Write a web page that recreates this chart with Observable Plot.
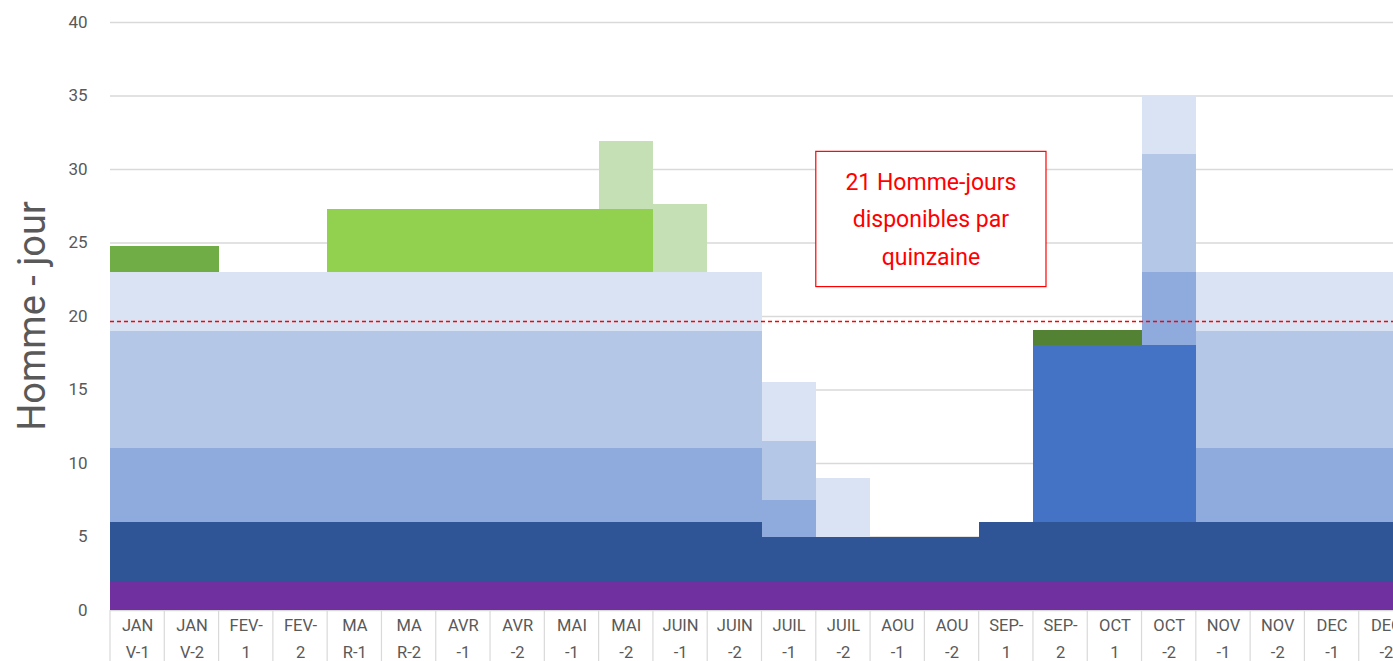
<!DOCTYPE html>
<html><head><meta charset="utf-8">
<script src="https://cdn.jsdelivr.net/npm/d3@7"></script>
<script src="https://cdn.jsdelivr.net/npm/@observablehq/plot@0.6"></script>
<style>html,body{margin:0;padding:0;background:#fff;overflow:hidden;}</style>
</head><body><div id="chart"></div>
<script>
// Categories (tick labels as displayed, wrapped on two lines)
const categories = ["JAN\nV-1","JAN\nV-2","FEV-\n1","FEV-\n2","MA\nR-1","MA\nR-2","AVR\n-1","AVR\n-2","MAI\n-1","MAI\n-2","JUIN\n-1","JUIN\n-2","JUIL\n-1","JUIL\n-2","AOU\n-1","AOU\n-2","SEP-\n1","SEP-\n2","OCT\n1","OCT\n-2","NOV\n-1","NOV\n-2","DEC\n-1","DEC\n-2"];

// Series values (stack order bottom -> top)
const s1 = [2,2,2,2,2,2,2,2,2,2,2,2,2,2,2,2,2,2,2,2,2,2,2,2];
const s2 = [4,4,4,4,4,4,4,4,4,4,4,4,3,3,3,3,4,4,4,4,4,4,4,4];
const s3 = [0,0,0,0,0,0,0,0,0,0,0,0,0,0,0,0,0,12,12,12,0,0,0,0];
const s4 = [5,5,5,5,5,5,5,5,5,5,5,5,2.5,0,0,0,0,0,0,5,5,5,5,5];
const s5 = [8,8,8,8,8,8,8,8,8,8,8,8,4,0,0,0,0,0,0,8,8,8,8,8];
const s6 = [4,4,4,4,4,4,4,4,4,4,4,4,4,4,0,0,0,0,0,4,4,4,4,4];
const s7 = [0,0,0,0,0,0,0,0,0,0,0,0,0,0,0,0,0,1.05,1.05,0,0,0,0,0];
const s8 = [1.75,1.75,0,0,0,0,0,0,0,0,0,0,0,0,0,0,0,0,0,0,0,0,0,0];
const s9 = [0,0,0,0,4.3,4.3,4.3,4.3,4.3,4.3,0,0,0,0,0,0,0,0,0,0,0,0,0,0];
const s10 = [0,0,0,0,0,0,0,0,0,1.4,1.4,0,0,0,0,0,0,0,0,0,0,0,0,0];
const s11 = [0,0,0,0,0,0,0,0,0,2.55,2.55,0,0,0,0,0,0,0,0,0,0,0,0,0];
const s12 = [0,0,0,0,0,0,0,0,0,0.68,0.68,0,0,0,0,0,0,0,0,0,0,0,0,0];

const seriesNames = ["s1","s2","s3","s4","s5","s6","s7","s8","s9","s10","s11","s12"];
const seriesValues = [s1,s2,s3,s4,s5,s6,s7,s8,s9,s10,s11,s12];
const seriesColors = ["#7030A0","#2F5597","#4472C4","#8FAADC","#B4C7E7","#DAE3F3","#548235","#70AD47","#92D050","#C5E0B4","#C5E0B4","#C5E0B4"];

const yTicks = [0,5,10,15,20,25,30,35,40];
const threshold = [19.66];
const yTitle = "Homme - jour";
const noteLines = ["21 Homme-jours","disponibles par","quinzaine"];

const table = [];
seriesNames.forEach((s, k) => categories.forEach((c, i) => table.push({cat: c, series: s, value: seriesValues[k][i]})));

const W = 1413, H = 661;
const chart = Plot.plot({
  width: W, height: H,
  marginLeft: 110, marginRight: 0, marginTop: 22, marginBottom: 51,
  style: {fontFamily: "Roboto, sans-serif", background: "white", maxWidth: "none", overflow: "visible"},
  x: {domain: categories, padding: 0, round: false, label: null},
  y: {domain: [0, 40], label: null},
  color: {domain: seriesNames, range: seriesColors},
  marks: [
    Plot.gridY(yTicks.filter(d => d > 0), {stroke: "#D9D9D9", strokeOpacity: 1, strokeWidth: 1.4}),
    Plot.ruleY([0], {stroke: "#D9D9D9", strokeWidth: 1.4}),
    Plot.barY(table, Plot.stackY({x: "cat", y: "value", fill: "series", order: seriesNames, shapeRendering: "crispEdges"})),
    Plot.ruleY(threshold, {stroke: "#FF0000", strokeWidth: 1.3, strokeDasharray: "4,3"}),
    Plot.axisY({ticks: yTicks, tickSize: 0, tickPadding: 23, fontSize: 17, fill: "#595959", label: null}),
    Plot.axisX({tickSize: 0, tickPadding: 2, fontSize: 16.5, lineHeight: 1.6, fill: "#595959", label: null})
  ]
});
document.getElementById("chart").appendChild(chart);

const xs = chart.scale("x"), ys = chart.scale("y");
const svg = d3.select(chart);
const bw = xs.bandwidth;
const sep = svg.append("g").attr("stroke", "#D9D9D9").attr("stroke-width", 1.2);
categories.concat([null]).forEach((c, i) => {
  const x0 = c === null ? xs.apply(categories[categories.length - 1]) + bw : xs.apply(c);
  sep.append("line").attr("x1", x0).attr("x2", x0).attr("y1", ys.apply(0)).attr("y2", H);
});

// Axis title
svg.append("text")
  .attr("transform", `translate(32,${(ys.apply(0) + ys.apply(40)) / 2}) rotate(-90)`)
  .attr("text-anchor", "middle").attr("dominant-baseline", "central")
  .attr("fill", "#595959").attr("font-size", 38).attr("font-family", "Roboto, sans-serif")
  .text(yTitle);

// Annotation box
const bx0 = xs.apply(categories[13]);
const bx1 = xs.apply(categories[17]) + bw * 0.24;
const by0 = ys.apply(31.2), by1 = ys.apply(22.0);
const note = svg.append("g");
note.append("rect").attr("x", bx0).attr("y", by0).attr("width", bx1 - bx0).attr("height", by1 - by0)
  .attr("fill", "white").attr("stroke", "#FF0000").attr("stroke-width", 1.2);
noteLines.forEach((t, i) => {
  note.append("text").attr("x", (bx0 + bx1) / 2).attr("y", by0 + 31 + i * 37.5)
    .attr("text-anchor", "middle").attr("dominant-baseline", "central")
    .attr("fill", "#FF0000").attr("font-size", 23).attr("font-family", "Roboto, sans-serif")
    .text(t);
});
</script></body></html>
